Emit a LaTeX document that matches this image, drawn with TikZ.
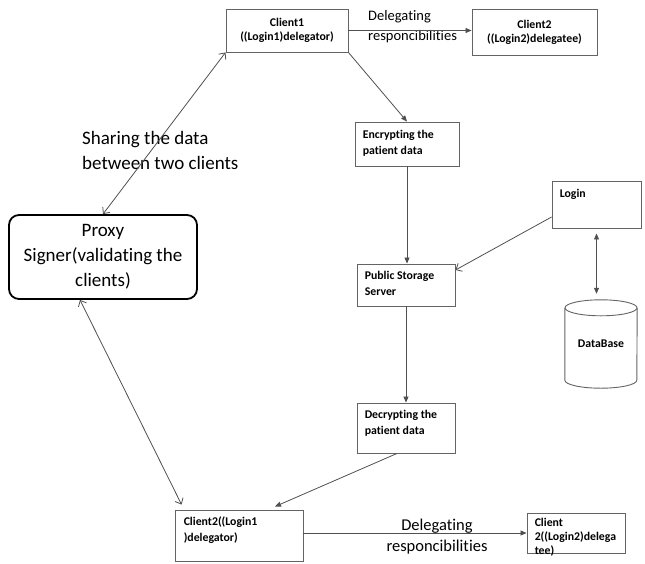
\documentclass[tikz,border=0pt]{standalone}
\usepackage{fontspec}
\setmainfont{Carlito}[Ligatures=NoCommon]
\usetikzlibrary{arrows.meta,calc}
\definecolor{edgecol}{RGB}{80,80,80}
\definecolor{framecol}{RGB}{100,100,100}
\begin{document}
\begin{tikzpicture}[x=1pt,y=-1pt,
  box/.style={draw=framecol, line width=0.9pt, rectangle, inner sep=0pt},
  boxfont/.style={font=\fontsize{11.8}{16}\selectfont\bfseries},
  boxtext/.style={boxfont, align=left, inner sep=0pt, anchor=north west},
  bigtext/.style={font=\fontsize{19}{25}\selectfont, align=left, inner sep=0pt},
  midtext/.style={font=\fontsize{14.5}{20}\selectfont, align=left, inner sep=0pt},
  conn/.style={draw=edgecol, line width=0.8pt},
  filled/.style={conn, -{Triangle[length=6pt,width=5pt]}},
  filledboth/.style={conn, {Triangle[length=6pt,width=5pt]}-{Triangle[length=6pt,width=5pt]}},
  barb/.style={conn, -{Straight Barb[length=5pt,width=9pt]}},
  barbboth/.style={conn, {Straight Barb[length=5pt,width=9pt]}-{Straight Barb[length=5pt,width=9pt]}}
]
\useasboundingbox (0,0) rectangle (645,563);

% boxes
\node[box, minimum width=122pt, minimum height=43pt, align=center,
      font=\fontsize{11.8}{14}\selectfont\bfseries] (client1) at (287,30.5)
      {Client1\\((Login1)delegator)};
\node[box, minimum width=125pt, minimum height=46pt, align=center,
      font=\fontsize{11.8}{14}\selectfont\bfseries] (client2t) at (534.5,32)
      {Client2\\((Login2)delegatee)};
\node[box, minimum width=104pt, minimum height=44pt] (enc) at (407,144) {};
\node[boxtext] (enctext) at ([xshift=8pt,yshift=-8pt]enc.north west) {Encrypting the\\patient data};
\node[box, minimum width=89pt, minimum height=47pt] (login) at (596.5,204.5) {};
\node[boxtext] (logintext) at ([xshift=8pt,yshift=-8pt]login.north west) {Login};
\node[box, minimum width=98pt, minimum height=42pt] (pss) at (406,285) {};
\node[boxtext] (psstext) at ([xshift=8pt,yshift=-7pt]pss.north west) {Public Storage\\Server};
\node[box, minimum width=98pt, minimum height=50pt] (dec) at (406,428) {};
\node[boxtext] (dectext) at ([xshift=8pt,yshift=-7pt]dec.north west) {Decrypting the\\patient data};
\node[box, minimum width=128pt, minimum height=51pt] (client2b) at (239,535.5) {};
\node[boxtext] (c2btext) at ([xshift=9pt,yshift=-7pt]client2b.north west) {Client2((Login1\\)delegator)};
\node[box, minimum width=98pt, minimum height=40pt] (client2r) at (576,533) {};
\node[boxtext, font=\fontsize{11.8}{14}\selectfont\bfseries] (c2rtext) at ([xshift=8pt,yshift=-5pt]client2r.north west) {Client\\2((Login2)delega\\tee)};

% database cylinder
\node[inner sep=0pt, minimum width=72pt, minimum height=88pt, boxfont] (db) at (601,344) {DataBase};
\draw[draw=framecol, line width=0.9pt]
  ($(db.north west)+(0,8)$) -- ($(db.south west)+(0,-8)$)
  arc[start angle=180, end angle=360, x radius=36pt, y radius=8pt]
  -- ($(db.north east)+(0,8)$);
\draw[draw=framecol, line width=0.9pt] ($(db.north)+(0,8)$) ellipse[x radius=36pt, y radius=8pt];

% proxy signer
\node[draw=black, line width=1.8pt, rounded corners=10pt, minimum width=188pt,
      minimum height=84pt, align=center, inner sep=0pt,
      font=\fontsize{19}{25}\selectfont] (proxy) at (103,257)
      {Proxy\\Signer(validating the\\clients)};

% free labels
\node[bigtext, anchor=west] (share) at (82,150) {Sharing the data\\between two clients};
\node[midtext, anchor=west] (deleg1) at (368,27) {Delegating\\responcibilities};
\node[midtext, align=center, font=\fontsize{16.5}{21}\selectfont] (deleg2) at (437,537) {Delegating\\responcibilities};

% connectors
\draw[filled] (client1.east) -- (client1.east -| client2t.west);
\draw[filled] (client1.south east) -- (enc.north);
\draw[filled] (enc.south) -- (enc.south |- pss.north);
\draw[barb] ([yshift=-12.5pt]login.west) -- ([yshift=15pt]pss.east);
\draw[filledboth] ([yshift=-5pt]login.south) -- ($(login.south |- db.north)+(0,-6)$);
\draw[filled] (pss.south) -- (pss.south |- dec.north);
\draw[filled] ([xshift=-9pt]dec.south) -- ([xshift=36pt,yshift=3pt]client2b.north);
\draw[filled] (client2r.west -| client2b.east) -- (client2r.west);
\draw[barbboth] (proxy.north) -- (client1.south west);
\draw[barbboth] ([xshift=-23pt]proxy.south) -- ([xshift=7pt,yshift=5pt]client2b.north west);
\end{tikzpicture}
\end{document}
